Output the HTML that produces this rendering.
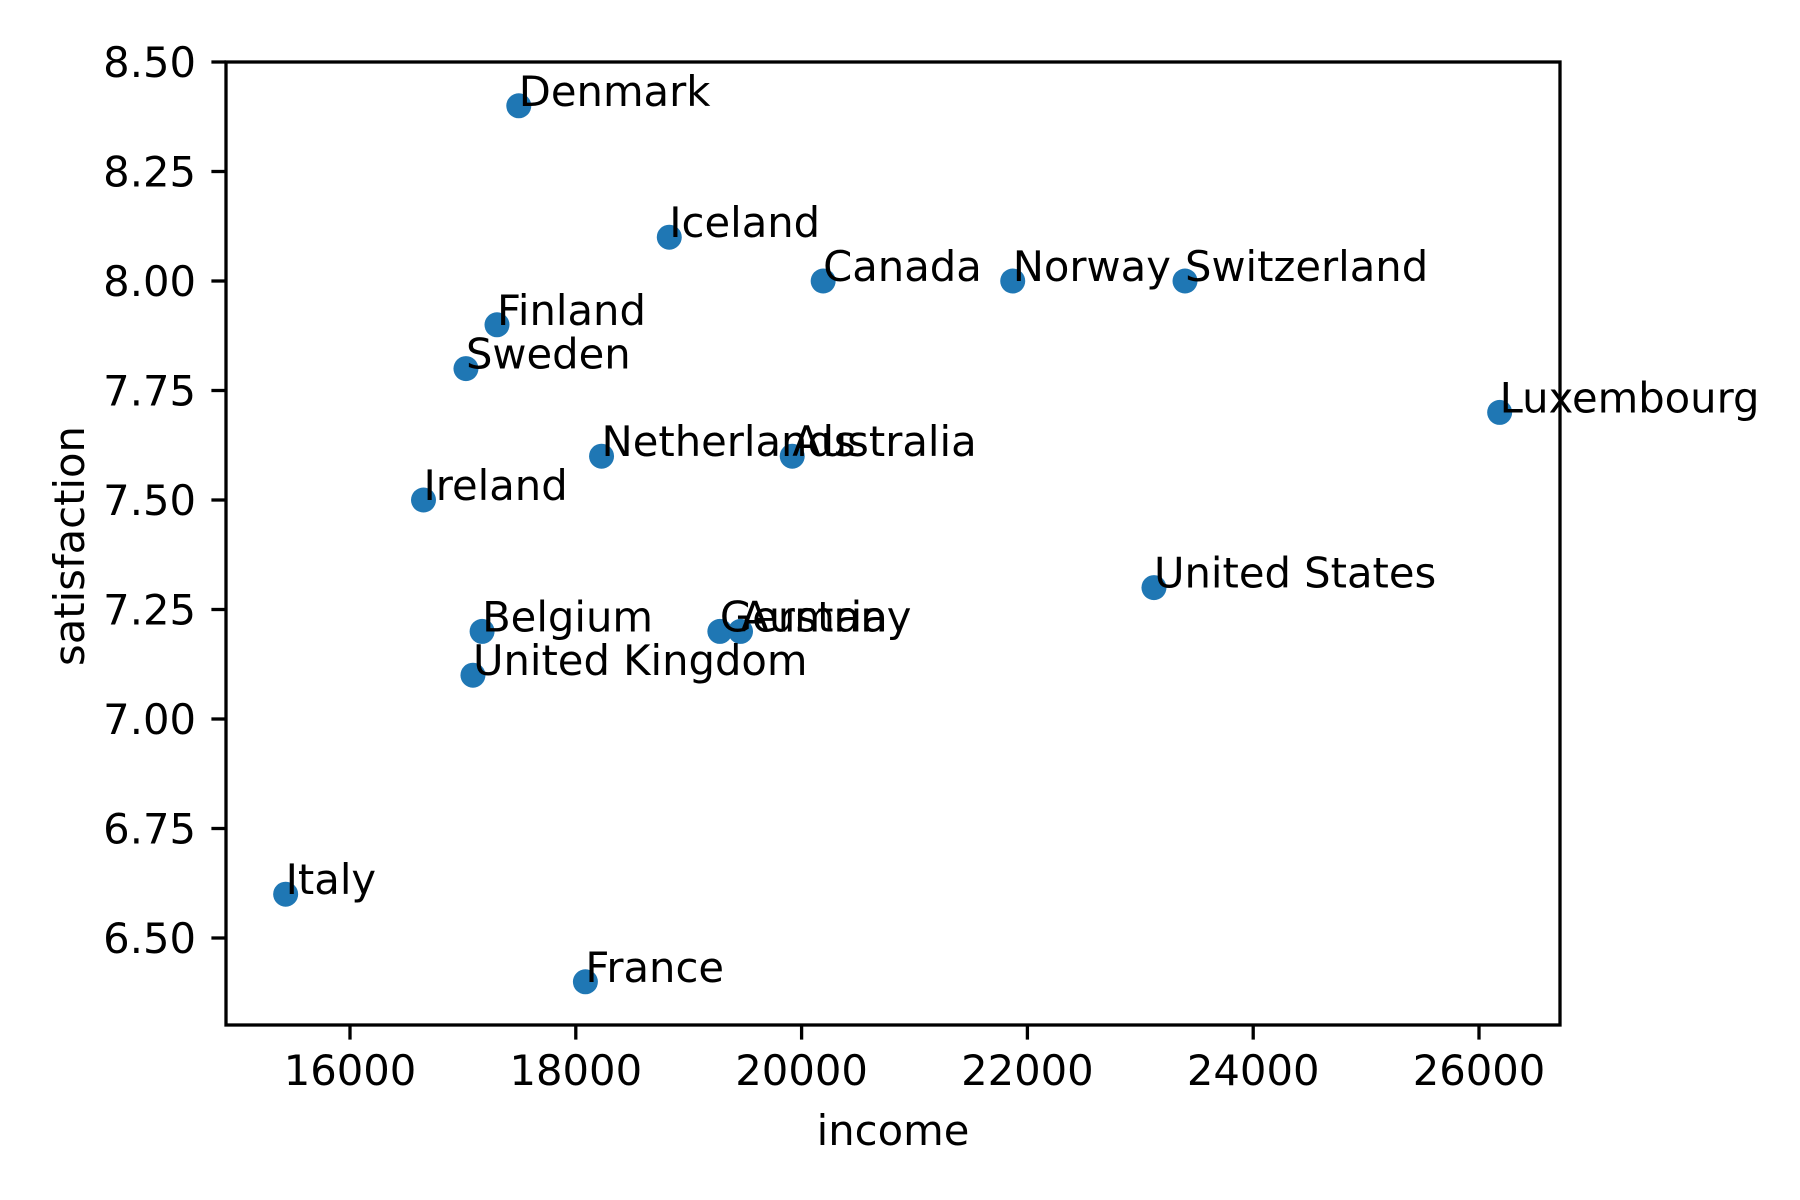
<!DOCTYPE html>
<html><head><meta charset="utf-8">
<style>
html,body{margin:0;padding:0;background:#fff;}
svg{display:block;font-family:"DejaVu Sans","Liberation Sans",sans-serif;}
</style></head>
<body>
<svg id="chart" width="1800" height="1200" viewBox="0 0 1800 1200" xmlns="http://www.w3.org/2000/svg">
<rect width="1800" height="1200" fill="#fff"/>
<g id="marks"></g>
<rect x="226" y="62" width="1334" height="963" fill="none" stroke="#000" stroke-width="3.3"/>
<g id="xticks"></g>
<g id="yticks"></g>
<text x="893" y="1145" font-size="41.7" text-anchor="middle">income</text>
<text x="0" y="0" font-size="41.7" text-anchor="middle" transform="translate(84,546) rotate(-90)">satisfaction</text>
</svg>
<script>
const countries = ["Denmark","Iceland","Canada","Norway","Switzerland","Finland","Sweden","Luxembourg","Netherlands","Australia","Ireland","United States","Belgium","Germany","Austria","United Kingdom","Italy","France"];
const income = [17495,18828,20191,21870,23396,17302,17027,26183,18228,19917,16651,23121,17170,19276,19459,17089,15430,18085];
const satisfaction = [8.4,8.1,8.0,8.0,8.0,7.9,7.8,7.7,7.6,7.6,7.5,7.3,7.2,7.2,7.2,7.1,6.6,6.4];
const xTicks = [16000,18000,20000,22000,24000,26000];
const yTicks = [6.5,6.75,7.0,7.25,7.5,7.75,8.0,8.25,8.5];

const NS = "http://www.w3.org/2000/svg";
function xs(v){ return 350 + (v-16000)*0.1129; }
function ys(v){ return 62 + (8.5-v)*438; }
function mk(tag, attrs, parent){
  const e = document.createElementNS(NS, tag);
  for (const k in attrs) e.setAttribute(k, attrs[k]);
  parent.appendChild(e);
  return e;
}
const marks = document.getElementById('marks');
countries.forEach((c,i)=>{
  const cx = xs(income[i]), cy = ys(satisfaction[i]);
  const p = mk('circle',{cx:cx, cy:cy, r:12.5, fill:'#1f77b4'}, marks);
  
  
});
countries.forEach((c,i)=>{
  const cx = xs(income[i]), cy = ys(satisfaction[i]);
  const t = mk('text',{x:cx, y:cy, 'font-size':41.7}, marks);
  t.textContent = c;
  
  
});
const xg = document.getElementById('xticks');
xTicks.forEach(v=>{
  const x = xs(v);
  const l = mk('line',{x1:x, x2:x, y1:1025, y2:1039.6, stroke:'#000', 'stroke-width':3.3}, xg);
  
  
  const t = mk('text',{x:x, y:1085, 'font-size':41.7, 'text-anchor':'middle'}, xg);
  t.textContent = String(v);
  
  
});
const yg = document.getElementById('yticks');
yTicks.forEach(v=>{
  const y = ys(v);
  const l = mk('line',{x1:211.4, x2:226, y1:y, y2:y, stroke:'#000', 'stroke-width':3.3}, yg);
  
  
  const t = mk('text',{x:196, y:y+15, 'font-size':41.7, 'text-anchor':'end'}, yg);
  t.textContent = v.toFixed(2);
  
  
});
</script>
</body></html>
